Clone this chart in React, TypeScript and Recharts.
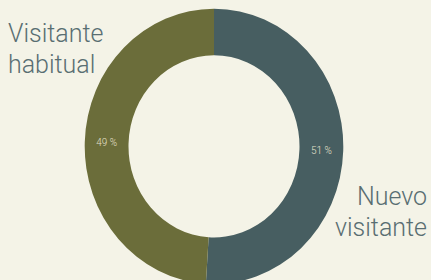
import React from "react";
import { PieChart, Pie, Cell } from "recharts";

const categories = ["Nuevo visitante", "Visitante habitual"];
const values = [51, 49];
const nameLines = [["Nuevo", "visitante"], ["Visitante", "habitual"]];
const colors = ["#475e61", "#6b6d3a"];

const W = 431;
const SCALE_Y = 1.065;
const H = Math.round(280 / SCALE_Y);
const BG = "#f4f3e7";
const FONT = "Roboto, 'Liberation Sans', Arial, sans-serif";

const data = categories.map((name, i) => ({ name, value: values[i] }));
const total = values.reduce((a, b) => a + b, 0);

const renderLabel = (props: any) => {
  const { cx, cy, midAngle, innerRadius, outerRadius, index, value } = props;
  const RAD = Math.PI / 180;
  const r = (innerRadius + outerRadius) / 2;
  const x = cx + r * Math.cos(-midAngle * RAD);
  const y = cy + r * Math.sin(-midAngle * RAD);
  const pct = Math.round((value / total) * 100);
  const lines = nameLines[index];
  const right = index === 0;
  const nx = right ? W - 4 : 8;
  const ny = right ? 192.5 : 39.2;
  return (
    <g>
      <text
        x={x}
        y={y}
        fill="#e4e0cc"
        fontSize={10}
        fontWeight={300}
        fontFamily={FONT}
        textAnchor="middle"
        dominantBaseline="central"
      >
        {pct + " %"}
      </text>
      <text
        x={nx}
        y={ny}
        fill="#596e72"
        fontSize={25}
        fontWeight={300}
        fontFamily={FONT}
        textAnchor={right ? "end" : "start"}
      >
        {lines.map((l, k) => (
          <tspan key={k} x={nx} dy={k === 0 ? 0 : 29}>
            {l}
          </tspan>
        ))}
      </text>
    </g>
  );
};

export default function App() {
  return (
    <div
      style={{
        position: "absolute",
        left: 0,
        top: 0,
        width: W,
        height: 280,
        background: BG,
        overflow: "hidden",
      }}
    >
      <div style={{ transform: `scaleY(${SCALE_Y})`, transformOrigin: "0 0", width: W, height: H }}>
        <PieChart width={W} height={H} margin={{ top: 0, right: 0, bottom: 0, left: 0 }}>
          <Pie
            data={data}
            dataKey="value"
            nameKey="name"
            cx={214}
            cy={137.4}
            innerRadius={85.5}
            outerRadius={129.3}
            startAngle={90}
            endAngle={-270}
            stroke="none"
            label={renderLabel}
            labelLine={false}
            isAnimationActive={false}
          >
            {data.map((d, i) => (
              <Cell key={d.name} fill={colors[i]} />
            ))}
          </Pie>
        </PieChart>
      </div>
    </div>
  );
}
